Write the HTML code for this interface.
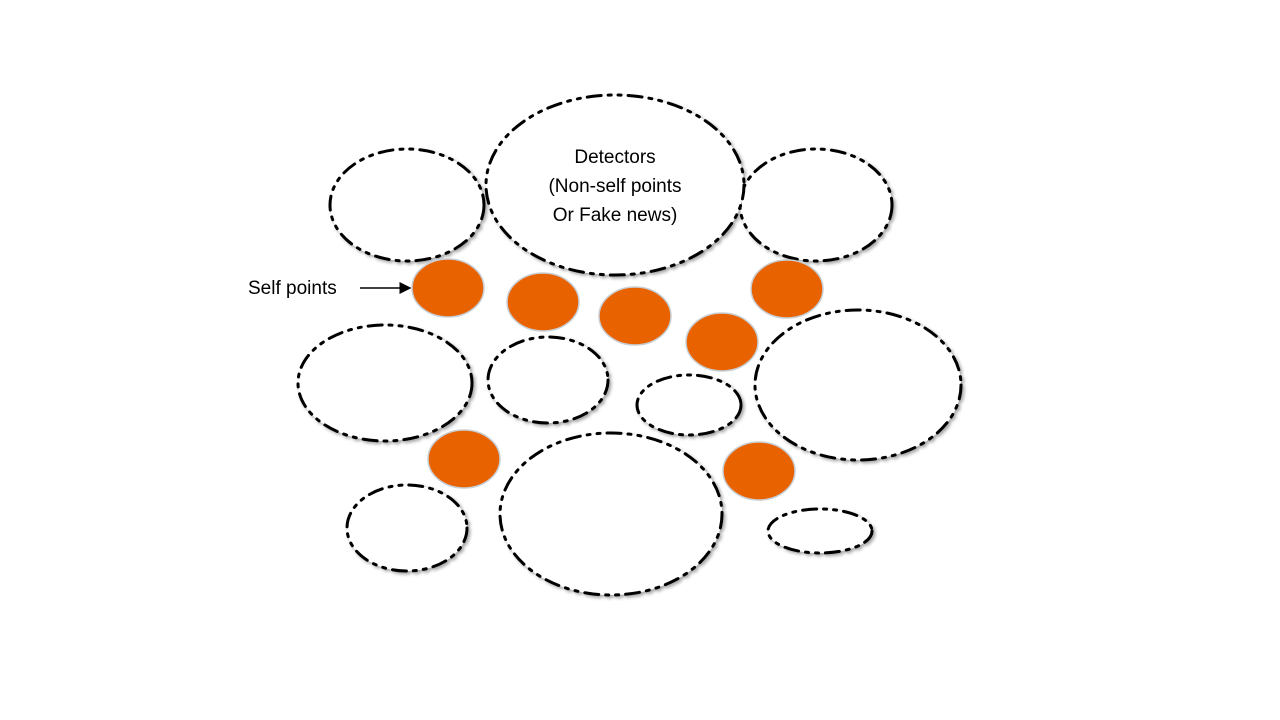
<!DOCTYPE html>
<html><head><meta charset="utf-8"><style>
html,body{margin:0;padding:0;background:#fff;width:1280px;height:720px;overflow:hidden}
</style></head><body>
<svg width="1280" height="720" xmlns="http://www.w3.org/2000/svg">
<defs>
<filter id="sh" x="-10%" y="-10%" width="125%" height="125%"><feDropShadow dx="2" dy="2" stdDeviation="1.5" flood-color="#000" flood-opacity="0.35"/></filter>
<marker id="ar" markerWidth="8" markerHeight="8" refX="7" refY="4" orient="auto"><path d="M0,0 L8,4 L0,8 z" fill="#000"/></marker>
</defs>
<g fill="#fff" stroke="#000" stroke-width="3" stroke-dasharray="14 7 3 7 3 7" stroke-linecap="round" filter="url(#sh)">
<ellipse cx="407" cy="205" rx="77" ry="56"/>
<ellipse cx="816" cy="205" rx="76" ry="56"/>
<ellipse cx="615" cy="185" rx="129" ry="90"/>
<ellipse cx="385" cy="383" rx="87" ry="58"/>
<ellipse cx="548" cy="380" rx="60" ry="43"/>
<ellipse cx="689" cy="405" rx="52" ry="30"/>
<ellipse cx="858" cy="385" rx="103" ry="75"/>
<ellipse cx="407" cy="528" rx="60" ry="43"/>
<ellipse cx="611" cy="514" rx="111" ry="81"/>
<ellipse cx="820" cy="531" rx="52" ry="22"/>
</g>
<g fill="#E96200" stroke="#c8d0d6" stroke-width="1.5">
<ellipse cx="448" cy="288" rx="36" ry="29"/>
<ellipse cx="543" cy="302" rx="36" ry="29"/>
<ellipse cx="635" cy="316" rx="36" ry="29"/>
<ellipse cx="787" cy="289" rx="36" ry="29"/>
<ellipse cx="722" cy="342" rx="36" ry="29"/>
<ellipse cx="464" cy="459" rx="36" ry="29"/>
<ellipse cx="759" cy="471" rx="36" ry="29"/>
</g>
<g font-family="Liberation Sans, sans-serif" font-size="19" fill="#000">
<text x="615" y="163" text-anchor="middle">Detectors</text>
<text x="615" y="192" text-anchor="middle">(Non-self points</text>
<text x="615" y="221" text-anchor="middle">Or Fake news)</text>
<text x="248" y="294">Self points</text>
</g>
<line x1="360" y1="288" x2="410" y2="288" stroke="#000" stroke-width="1.5" marker-end="url(#ar)"/>
</svg>
</body></html>
